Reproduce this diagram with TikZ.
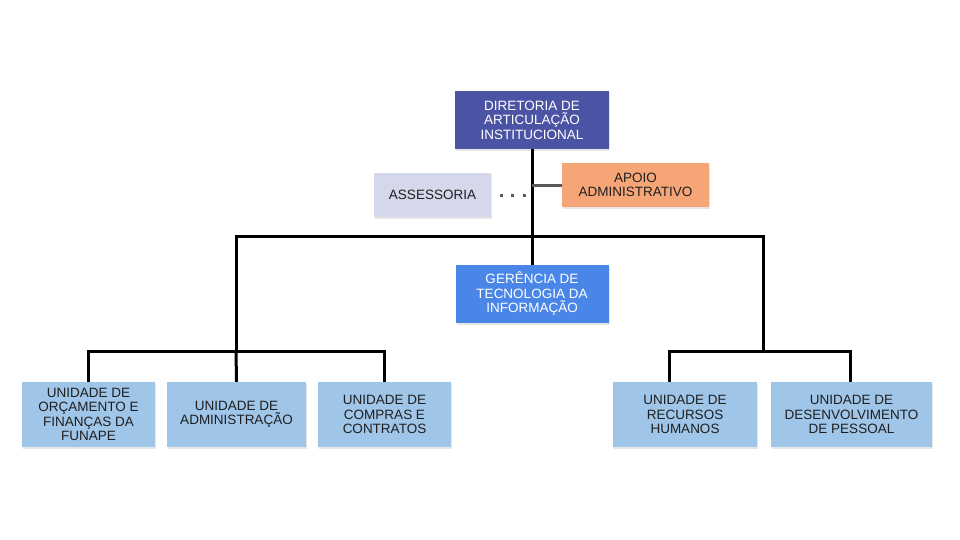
\documentclass[tikz,border=0pt]{standalone}
\usepackage{fontspec}
\setmainfont{Liberation Sans}
\tikzset{>=latex}
\usetikzlibrary{shadows}
\definecolor{dirblue}{HTML}{4B53A4}
\definecolor{apoiofill}{HTML}{F6A676}
\definecolor{assefill}{HTML}{D5D7EB}
\definecolor{gerblue}{HTML}{4A86E8}
\definecolor{unitfill}{HTML}{9FC5E8}
\definecolor{textdark}{HTML}{1F1F1F}
\definecolor{sidegray}{HTML}{595959}
\tikzset{
  box/.style={rectangle, inner sep=0pt, align=center, text=textdark,
    font=\fontsize{13.5}{14.5}\selectfont,
    drop shadow={opacity=0.2, shadow xshift=1pt, shadow yshift=-2pt}},
  unit/.style={box, fill=unitfill, minimum height=65},
  trunk/.style={line width=3pt, black},
  side/.style={line width=3pt, sidegray},
  dots/.style={line width=3pt, sidegray, dash pattern=on 3pt off 8.5pt, dash phase=3pt}
}

\begin{document}
\begin{tikzpicture}[x=1pt,y=-1pt]
  \useasboundingbox (0,0) rectangle (960,540);
  % top
  \node[box, fill=dirblue, text=white, minimum width=154, minimum height=58] (dir) at (532,120)
    {DIRETORIA DE\\ARTICULAÇÃO\\INSTITUCIONAL};
  \node[box, fill=apoiofill, minimum width=147, minimum height=44] (apoio) at (635.5,185)
    {APOIO\\ADMINISTRATIVO};
  \node[box, fill=assefill, minimum width=117, minimum height=44] (asse) at (432.5,195)
    {ASSESSORIA};
  \node[box, fill=gerblue, text=white, minimum width=153, minimum height=58] (ti) at (532,294)
    {GERÊNCIA DE\\TECNOLOGIA DA\\INFORMAÇÃO};
  % units
  \node[unit, minimum width=133] (u1) at (88.5,414.5) {UNIDADE DE\\ORÇAMENTO E\\FINANÇAS DA\\FUNAPE};
  \node[unit, minimum width=139] (u2) at (236.5,414.5) {UNIDADE DE\\ADMINISTRAÇÃO};
  \node[unit, minimum width=133] (u3) at (384.5,414.5) {UNIDADE DE\\COMPRAS E\\CONTRATOS};
  \node[unit, minimum width=144] (u4) at (685,414.5) {UNIDADE DE\\RECURSOS\\HUMANOS};
  \node[unit, minimum width=161] (u5) at (851.5,414.5) {UNIDADE DE\\DESENVOLVIMENTO\\DE PESSOAL};
  % junctions
  \coordinate (lj) at (236,236);
  \coordinate (rj) at (763,236);
  \coordinate (lb) at (236,351);
  \coordinate (rb) at (763,351);
  % connectors
  \draw[trunk] (dir) -- (ti);
  \draw[side] (apoio.west) -- (apoio.west -| dir.south);
  \draw[dots] (asse.east) -- (asse.east -| dir.south);
  \draw[trunk] (lb) -- (lj) -- (rj) -- (rb);
  \draw[trunk] (u1.north) |- (lb) -| (u3.north);
  \draw[trunk] (lb) -- (u2.north);
  \draw[trunk] ([xshift=-16pt]u4.north) |- (rb) -| ([xshift=-1.5pt]u5.north);
\end{tikzpicture}
\end{document}
